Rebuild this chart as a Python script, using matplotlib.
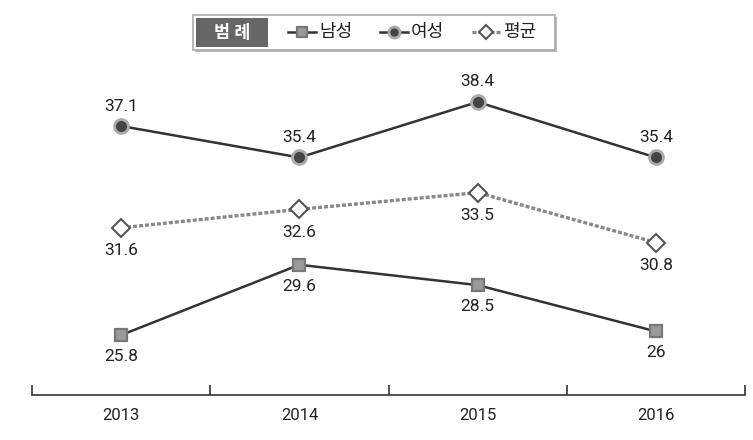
import matplotlib
matplotlib.use("Agg")
import matplotlib.pyplot as plt
from matplotlib.patches import Rectangle
from matplotlib.lines import Line2D

plt.rcParams['font.family'] = ['Roboto', 'Noto Sans CJK KR', 'DejaVu Sans']

years = ['2013', '2014', '2015', '2016']
male = [25.8, 29.6, 28.5, 26]
female = [37.1, 35.4, 38.4, 35.4]
avg = [31.6, 32.6, 33.5, 30.8]
male_lbl = ['25.8', '29.6', '28.5', '26']
female_lbl = ['37.1', '35.4', '38.4', '35.4']
avg_lbl = ['31.6', '32.6', '33.5', '30.8']
series_names = ['남성', '여성', '평균']
legend_title = '범 례'

W, H = 753, 440
fig = plt.figure(figsize=(W / 100, H / 100), dpi=100)
ax = fig.add_axes([32 / W, 1 - 395 / H, (745 - 32) / W, (395 - 60) / H])
x = list(range(len(years)))

male_style = dict(color='#333333', lw=1.8, marker='s', ms=9, mfc='#9a9a9a', mec='#777777', mew=1.6)
female_style = dict(color='#333333', lw=1.8, marker='o', ms=10, mfc='#444444', mec='#aaaaaa', mew=2.0)
avg_style = dict(color='#888888', lw=2.4, ls=(0, (1.2, 0.6)), marker='D', ms=9, mfc='white', mec='#555555', mew=1.5)

ax.plot(x, avg, **avg_style)
ax.plot(x, male, **male_style)
ax.plot(x, female, **female_style)

fs = 12.5
for xi, v, t in zip(x, female, female_lbl):
    ax.annotate(t, (xi, v), xytext=(0, 9), textcoords='offset points', ha='center', va='bottom', fontsize=fs, color='#222222')
for xi, v, t in zip(x, avg, avg_lbl):
    ax.annotate(t, (xi, v), xytext=(0, -11), textcoords='offset points', ha='center', va='top', fontsize=fs, color='#222222')
for xi, v, t in zip(x, male, male_lbl):
    ax.annotate(t, (xi, v), xytext=(0, -10), textcoords='offset points', ha='center', va='top', fontsize=fs, color='#222222')

ax.set_xlim(-0.5, len(years) - 0.5)
ax.set_ylim(22.56, 40.67)
for s in ['top', 'right', 'left']:
    ax.spines[s].set_visible(False)
ax.spines['bottom'].set_color('#333333')
ax.spines['bottom'].set_linewidth(1.2)
ax.set_yticks([])
ax.set_xticks(x)
ax.set_xticklabels(years, fontsize=12, color='#222222')
ax.tick_params(axis='x', which='major', length=0, pad=9)
ax.set_xticks([i - 0.5 for i in range(len(years) + 1)], minor=True)
ax.tick_params(axis='x', which='minor', direction='in', length=7, width=1.2, color='#333333')

# legend overlay
lg = fig.add_axes([0, 0, 1, 1])
lg.set_xlim(0, W)
lg.set_ylim(H, 0)
lg.axis('off')
lg.add_patch(Rectangle((195, 17), 362, 35, facecolor='#bbbbbb', edgecolor='none'))
lg.add_patch(Rectangle((193, 15), 362, 35, facecolor='white', edgecolor='#aaaaaa', lw=1.2))
lg.add_patch(Rectangle((196, 18), 72, 29, facecolor='#666666', edgecolor='none'))
lg.text(232, 32.5, legend_title, ha='center', va='center', color='white', fontsize=12.5, fontweight='bold')
items = [(288, male_style), (380, female_style), (472, avg_style)]
for (x0, st), name in zip(items, series_names):
    line_kw = {k: v for k, v in st.items() if k in ('color', 'lw', 'ls')}
    mk_kw = {k: v for k, v in st.items() if k in ('marker', 'mfc', 'mec', 'mew')}
    lg.add_line(Line2D([x0, x0 + 28], [32.5, 32.5], **line_kw))
    lg.add_line(Line2D([x0 + 14], [32.5], ls='none', ms=st['ms'] * 0.8, **mk_kw))
    lg.text(x0 + 31, 32.5, name, ha='left', va='center', fontsize=13, color='#222222')

fig.savefig('out.png', dpi=100)
